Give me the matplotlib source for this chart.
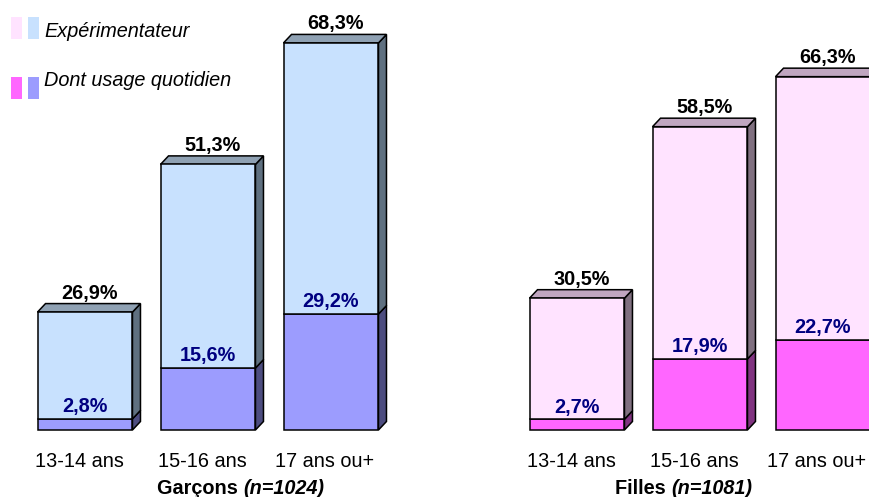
import matplotlib
matplotlib.use('Agg')
import matplotlib.pyplot as plt
from matplotlib.patches import Polygon, Rectangle

plt.rcParams['font.family'] = ['Liberation Sans', 'DejaVu Sans']

# ---- data ----
age_groups = ['13-14 ans', '15-16 ans', '17 ans ou+']
group_names = ['Garçons ', 'Filles ']
group_n = ['(n=1024)', '(n=1081)']
garcons_exp = [26.9, 51.3, 68.3]
garcons_quot = [2.8, 15.6, 29.2]
filles_exp = [30.5, 58.5, 66.3]
filles_quot = [2.7, 17.9, 22.7]
legend_labels = ['Expérimentateur', 'Dont usage quotidien']

# ---- style ----
W, H, DPI = 869, 497, 100
FS = 14.3
styles = [
    dict(front_exp='#C8E1FE', front_quot='#9C9CFE', side_exp='#5F7080',
         top_exp='#8FA1B3', side_quot='#4D4D80'),
    dict(front_exp='#FFE3FF', front_quot='#FF66FF', side_exp='#807080',
         top_exp='#C0A6C0', side_quot='#803380'),
]
positions = [[0, 1, 2], [4, 5, 6]]
bar_w = 0.772


def fmt(v):
    return f"{v:.1f}".replace('.', ',') + '%'


fig = plt.figure(figsize=(W / DPI, H / DPI), dpi=DPI)
ax = fig.add_axes([0, 0, 1, 1])
ax.set_xlim(-0.691, 6.374)
ax.set_ylim(-16.88, 108.31)
ax.axis('off')

# depth of the 3D effect, in data units
px_x = (6.374 + 0.691) / W
px_y = (108.31 + 16.88) / H
dx = 8 * px_x
dy = 8.5 * px_y

data = [(garcons_exp, garcons_quot), (filles_exp, filles_quot)]

for g, (exp, quot) in enumerate(data):
    st = styles[g]
    pos = positions[g]
    # front faces drawn by the library's bar routine (stacked)
    ax.bar(pos, quot, width=bar_w, color=st['front_quot'], edgecolor='black',
           linewidth=1.1, zorder=3)
    ax.bar(pos, exp, width=bar_w, bottom=quot, color=st['front_exp'],
           edgecolor='black', linewidth=1.1, zorder=3)
    for x, e, q in zip(pos, exp, quot):
        r = x + bar_w / 2
        l = x - bar_w / 2
        t = q + e
        # side faces
        ax.add_patch(Polygon([(r, 0), (r + dx, dy), (r + dx, q + dy), (r, q)],
                             closed=True, facecolor=st['side_quot'],
                             edgecolor='black', linewidth=1.1, zorder=2))
        ax.add_patch(Polygon([(r, q), (r + dx, q + dy), (r + dx, t + dy), (r, t)],
                             closed=True, facecolor=st['side_exp'],
                             edgecolor='black', linewidth=1.1, zorder=2))
        # top face
        ax.add_patch(Polygon([(l, t), (l + dx, t + dy), (r + dx, t + dy), (r, t)],
                             closed=True, facecolor=st['top_exp'],
                             edgecolor='black', linewidth=1.1, zorder=2))
        # labels
        ax.annotate(fmt(e), xy=(x, t + dy), xytext=(3.6, 3.6),
                    textcoords='offset points', ha='center', va='baseline',
                    fontsize=FS, fontweight='bold', color='black', zorder=5)
        ax.annotate(fmt(q), xy=(x, q), xytext=(0, 4.8),
                    textcoords='offset points', ha='center', va='baseline',
                    fontsize=FS, fontweight='bold', color='#000080', zorder=5)
    for x, lab in zip(pos, age_groups):
        ax.annotate(lab, xy=(x, 0), xytext=(-4.3, -26.6),
                    textcoords='offset points', ha='center', va='baseline',
                    fontsize=FS, color='black')

# group labels
group_left_px = [157, 615]
for g in range(2):
    t1 = fig.text(group_left_px[g] / W, (H - 494) / H, group_names[g],
                  ha='left', va='baseline', fontsize=FS, fontweight='bold')
    ax.annotate(group_n[g], xy=(1, 0), xycoords=t1, ha='left', va='bottom',
                fontsize=FS, fontweight='bold', fontstyle='italic')

# legend
leg_rows = [(17, 39, 36.7), (77, 99, 86)]
leg_colors = [(styles[1]['front_exp'], styles[0]['front_exp']),
              (styles[1]['front_quot'], styles[0]['front_quot'])]
for (y0, y1, base), (c1, c2), lab in zip(leg_rows, leg_colors, legend_labels):
    for xa, c in ((11, c1), (28, c2)):
        fig.patches.append(Rectangle((xa / W, (H - y1) / H), 10.5 / W,
                                     (y1 - y0) / H, transform=fig.transFigure,
                                     facecolor=c, edgecolor='none'))
    fig.text(44 / W, (H - base) / H, lab, ha='left', va='baseline',
             fontsize=FS, fontstyle='italic')

fig.savefig('out.png', dpi=DPI)
